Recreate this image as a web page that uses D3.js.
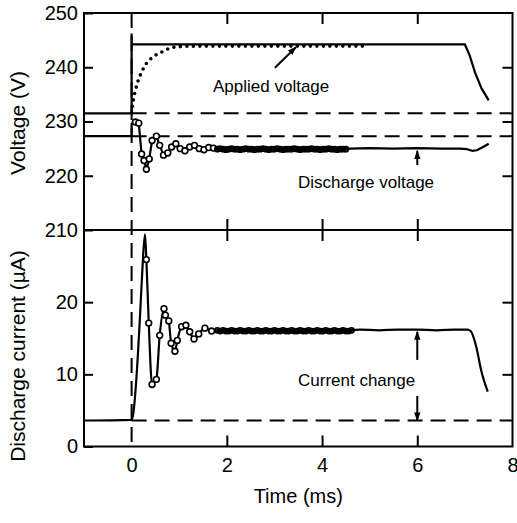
<!DOCTYPE html>
<html>
<head>
<meta charset="utf-8">
<script src="https://cdn.jsdelivr.net/npm/d3@7"></script>
<style>
  body { margin: 0; background: #fff; }
  text { font-family: "Liberation Sans", Arial, Helvetica, sans-serif; fill: #000; }
</style>
</head>
<body>
<svg id="chart" width="517" height="523"></svg>
<script>
// ---- axis ticks ----
const voltageTicks = [210, 220, 230, 240, 250];
const currentTicks = [0, 10, 20];
const timeTicks = [0, 2, 4, 6, 8];

// ---- levels before the pulse ----
const appliedBefore = 231.5;     // V
const dischargeBefore = 227.3;   // V
const currentBefore = 3.6;       // µA

// ---- applied voltage (solid: set value) ----
const appliedTime = [-1, 0, 0, 0, 7.0, 7.1, 7.21, 7.35, 7.5];
const appliedV    = [231.5, 231.5, 246.2, 244.2, 244.2, 242.2, 239.1, 236.1, 233.9];

// ---- applied voltage (dotted: actual rise) ----
const riseTime = [0, 0.035, 0.07, 0.14, 0.21, 0.31, 0.45, 0.63, 0.80, 1.01, 1.4, 2.0, 3.0, 4.0, 4.85];
const riseV    = [231.6, 233.9, 235.4, 237.6, 239.1, 240.7, 241.9, 242.8, 243.5, 243.8, 243.9, 243.9, 243.9, 243.9, 243.9];

// ---- discharge voltage ----
const dischargeTime = [-1, 0, 0, 0.08, 0.15, 0.21, 0.26, 0.31, 0.37, 0.43, 0.52, 0.59, 0.67, 0.76, 0.84,
  0.93, 1.02, 1.12, 1.22, 1.32, 1.42, 1.52, 1.62, 1.72,
  1.80, 1.86, 1.92, 1.98, 2.04, 2.10, 2.16, 2.22, 2.28, 2.34, 2.40, 2.46, 2.52, 2.58, 2.64, 2.70,
  2.76, 2.82, 2.88, 2.94, 3.00, 3.06, 3.12, 3.18, 3.24, 3.30, 3.36, 3.42, 3.48, 3.54, 3.60, 3.66,
  3.72, 3.78, 3.84, 3.90, 3.96, 4.02, 4.08, 4.14, 4.20, 4.26, 4.32, 4.38, 4.44, 4.50,
  4.6, 5.0, 5.5, 6.0, 6.5, 6.9, 7.05, 7.15, 7.25, 7.4, 7.5];
const dischargeV = [227.3, 227.3, 229.6, 229.9, 229.7, 224.0, 222.8, 221.2, 223.1, 226.5, 227.3, 225.6, 223.8, 224.2, 225.3,
  225.9, 225.0, 224.6, 225.3, 225.6, 225.0, 224.8, 225.2, 225.1,
  224.9, 225.0, 224.9, 224.8, 224.9, 225.0, 224.9, 224.9, 224.8, 224.9, 225.0, 224.9, 224.9, 224.8, 224.9, 224.9,
  225.0, 224.9, 224.8, 224.9, 224.9, 225.0, 224.9, 224.8, 224.9, 224.9, 224.9, 225.0, 224.9, 224.8, 224.9, 224.9,
  224.9, 225.0, 224.9, 224.9, 224.8, 224.9, 224.9, 225.0, 224.9, 224.9, 224.8, 224.9, 224.9, 224.9,
  225.0, 225.1, 225.0, 225.1, 225.0, 225.0, 224.9, 224.6, 224.7, 225.4, 225.9];

// ---- discharge current ----
const currentTime = [-1, 0, 0.04, 0.08, 0.13, 0.18, 0.23, 0.28, 0.31, 0.36, 0.43, 0.52, 0.59, 0.68, 0.71, 0.78,
  0.83, 0.91, 0.96, 1.05, 1.14, 1.22, 1.31, 1.41, 1.54, 1.68,
  1.80, 1.86, 1.92, 1.98, 2.04, 2.10, 2.16, 2.22, 2.28, 2.34, 2.40, 2.46, 2.52, 2.58, 2.64, 2.70,
  2.76, 2.82, 2.88, 2.94, 3.00, 3.06, 3.12, 3.18, 3.24, 3.30, 3.36, 3.42, 3.48, 3.54, 3.60, 3.66,
  3.72, 3.78, 3.84, 3.90, 3.96, 4.02, 4.08, 4.14, 4.20, 4.26, 4.32, 4.38, 4.44, 4.50, 4.56, 4.62,
  4.8, 5.2, 5.6, 6.0, 6.4, 6.8, 7.05, 7.12, 7.24, 7.34, 7.48];
const currentI = [3.6, 3.7, 4.8, 7.6, 12.5, 18.5, 25.0, 29.4, 25.9, 17.1, 8.6, 9.3, 15.4, 19.1, 18.2, 17.4,
  14.3, 13.2, 14.7, 16.6, 16.8, 15.9, 14.9, 15.6, 16.4, 16.0,
  16.1, 16.0, 16.1, 16.0, 16.0, 16.1, 16.0, 16.0, 16.1, 16.0, 16.0, 16.1, 16.0, 16.0, 16.1, 16.0,
  16.0, 16.1, 16.0, 16.0, 16.1, 16.0, 16.0, 16.1, 16.0, 16.0, 16.1, 16.0, 16.0, 16.1, 16.0, 16.0,
  16.1, 16.0, 16.0, 16.1, 16.0, 16.0, 16.1, 16.0, 16.0, 16.1, 16.0, 16.0, 16.1, 16.0, 16.0, 16.1,
  16.2, 16.1, 16.2, 16.2, 16.1, 16.2, 16.2, 16.0, 13.8, 10.6, 7.6];

// time windows in which sampled points carry circle markers
const dischargeMarks = [0.05, 4.52];
const currentMarks = [0.30, 4.65];
// from here on the markers overlap into a continuous band
const bandStart = 1.75;

// ---- scales ----
const svg = d3.select("#chart");
const x = d3.scaleLinear().domain([-1, 8]).range([84, 512.5]);
const yV = d3.scaleLinear().domain([210, 250]).range([230, 13]);
const yI = d3.scaleLinear().domain([0, 30]).range([446.5, 230]);

const zip = (ts, vs) => ts.map((t, i) => ({ t, v: vs[i] }));
const applied = zip(appliedTime, appliedV);
const rise = zip(riseTime, riseV);
const discharge = zip(dischargeTime, dischargeV);
const current = zip(currentTime, currentI);

// ---- axes ----
function styleAxis(g, labels) {
  g.select(".domain").remove();
  g.selectAll(".tick line").attr("stroke", "#000").attr("stroke-width", 2);
  g.selectAll(".tick text")
    .attr("font-size", 20)
    .attr("font-family", "Liberation Sans, Arial, sans-serif")
    .attr("fill", "#000");
  if (!labels) g.selectAll(".tick text").remove();
}

svg.append("g").attr("transform", "translate(84,0)")
  .call(d3.axisLeft(yV).tickValues(voltageTicks).tickSizeInner(-9).tickSizeOuter(0).tickPadding(6).tickFormat(d3.format("d")))
  .call(g => styleAxis(g, true));
svg.append("g").attr("transform", "translate(84,0)")
  .call(d3.axisLeft(yI).tickValues(currentTicks).tickSizeInner(-9).tickSizeOuter(0).tickPadding(6).tickFormat(d3.format("d")))
  .call(g => styleAxis(g, true));
svg.append("g").attr("transform", "translate(512.5,0)")
  .call(d3.axisRight(yV).tickValues([220, 230, 240]).tickSizeInner(-10).tickSizeOuter(0))
  .call(g => styleAxis(g, false));
svg.append("g").attr("transform", "translate(512.5,0)")
  .call(d3.axisRight(yI).tickValues([10, 20]).tickSizeInner(-10).tickSizeOuter(0))
  .call(g => styleAxis(g, false));
svg.append("g").attr("transform", "translate(0,13)")
  .call(d3.axisTop(x).tickValues([2, 4, 6]).tickSizeInner(-11).tickSizeOuter(0))
  .call(g => styleAxis(g, false));
svg.append("g").attr("transform", "translate(0,230)")
  .call(d3.axisTop(x).tickValues([2, 4, 6]).tickSizeInner(11).tickSizeOuter(0))
  .call(g => styleAxis(g, false));
svg.append("g").attr("transform", "translate(0,230)")
  .call(d3.axisBottom(x).tickValues([2, 4, 6]).tickSizeInner(11).tickSizeOuter(0))
  .call(g => styleAxis(g, false));
svg.append("g").attr("transform", "translate(0,446.5)")
  .call(d3.axisBottom(x).tickValues([2, 4, 6]).tickSizeInner(-11).tickSizeOuter(0))
  .call(g => styleAxis(g, false));
svg.append("g").attr("transform", "translate(0,446.5)")
  .call(d3.axisBottom(x).tickValues(timeTicks).tickSize(0).tickPadding(11).tickFormat(d3.format("d")))
  .call(g => styleAxis(g, true));

// ---- frame ----
svg.append("rect")
  .attr("x", x(-1)).attr("y", yV(250))
  .attr("width", x(8) - x(-1)).attr("height", yI(0) - yV(250))
  .attr("fill", "none").attr("stroke", "#000").attr("stroke-width", 2);
svg.append("line")
  .attr("x1", x(-1)).attr("x2", x(8)).attr("y1", yV(210)).attr("y2", yV(210))
  .attr("stroke", "#000").attr("stroke-width", 2);

// ---- reference (pre-pulse) levels ----
const dash = "15,8";
function hline(y, x0, x1, dashed) {
  svg.append("line").attr("x1", x(x0)).attr("x2", x(x1)).attr("y1", y).attr("y2", y)
    .attr("stroke", "#000").attr("stroke-width", 2)
    .attr("stroke-dasharray", dashed ? dash : null);
}
hline(yV(appliedBefore), 0, 8, true);
hline(yV(dischargeBefore), 0, 8, true);
hline(yI(currentBefore), 0, 8, true);
svg.append("line")
  .attr("x1", x(0)).attr("x2", x(0)).attr("y1", yV(250)).attr("y2", yI(0))
  .attr("stroke", "#000").attr("stroke-width", 2).attr("stroke-dasharray", dash);

// ---- curves ----
const lineV = d3.line().x(d => x(d.t)).y(d => yV(d.v));
const lineI = d3.line().x(d => x(d.t)).y(d => yI(d.v)).curve(d3.curveMonotoneX);

svg.append("path").datum(applied).attr("d", lineV)
  .attr("fill", "none").attr("stroke", "#000").attr("stroke-width", 2.2);
svg.append("path").datum(rise).attr("d", lineV.curve(d3.curveMonotoneX))
  .attr("fill", "none").attr("stroke", "#000").attr("stroke-width", 3.6)
  .attr("stroke-linecap", "round").attr("stroke-dasharray", "0,6.5");
lineV.curve(d3.curveLinear);

svg.append("path").datum(discharge).attr("d", lineV)
  .attr("fill", "none").attr("stroke", "#000").attr("stroke-width", 2.2).attr("stroke-linejoin", "round");
svg.append("path").datum(current).attr("d", lineI)
  .attr("fill", "none").attr("stroke", "#000").attr("stroke-width", 2.2).attr("stroke-linejoin", "round");

function markers(data, y, range) {
  svg.append("g").selectAll("circle")
    .data(data.filter(d => d.t >= range[0] && d.t <= range[1]))
    .join("circle")
    .attr("cx", d => x(d.t)).attr("cy", d => y(d.v))
    .attr("r", d => d.t < bandStart ? 2.9 : 2.4)
    .attr("fill", d => d.t < bandStart ? "#fff" : "none")
    .attr("stroke", "#000")
    .attr("stroke-width", d => d.t < bandStart ? 1.6 : 1.9);
}
markers(discharge, yV, dischargeMarks);
markers(current, yI, currentMarks);

// ---- annotations ----
const defs = svg.append("defs");
defs.append("marker").attr("id", "head")
  .attr("viewBox", "0 0 10 10").attr("refX", 9).attr("refY", 5)
  .attr("markerWidth", 9).attr("markerHeight", 9).attr("markerUnits", "userSpaceOnUse")
  .attr("orient", "auto")
  .append("path").attr("d", "M0,1.5 L10,5 L0,8.5 Z").attr("fill", "#000");

function arrow(x1, y1, x2, y2) {
  svg.append("line").attr("x1", x1).attr("y1", y1).attr("x2", x2).attr("y2", y2)
    .attr("stroke", "#000").attr("stroke-width", 2).attr("marker-end", "url(#head)");
}
arrow(x(3.01), yV(239.9), x(3.45), yV(243.7));
arrow(x(6), yV(222.0), x(6), yV(224.6));
arrow(x(6), yI(12.0), x(6), yI(15.9));
arrow(x(6), yI(7.0), x(6), yI(currentBefore));

function note(txt, px, py) {
  svg.append("text").attr("x", px).attr("y", py).attr("font-size", 17).text(txt);
}
note("Applied voltage", 213, 92);
note("Discharge voltage", 298, 188);
note("Current change", 298, 386);

// ---- axis titles ----
svg.append("text").attr("text-anchor", "middle").attr("font-size", 20)
  .attr("x", x(3.5)).attr("y", 503).text("Time (ms)");
svg.append("text").attr("text-anchor", "middle").attr("font-size", 21)
  .attr("transform", "translate(25,123) rotate(-90)").text("Voltage (V)");
svg.append("text").attr("text-anchor", "middle").attr("font-size", 21)
  .attr("transform", "translate(25,356) rotate(-90)").text("Discharge current (µA)");
</script>
</body>
</html>
